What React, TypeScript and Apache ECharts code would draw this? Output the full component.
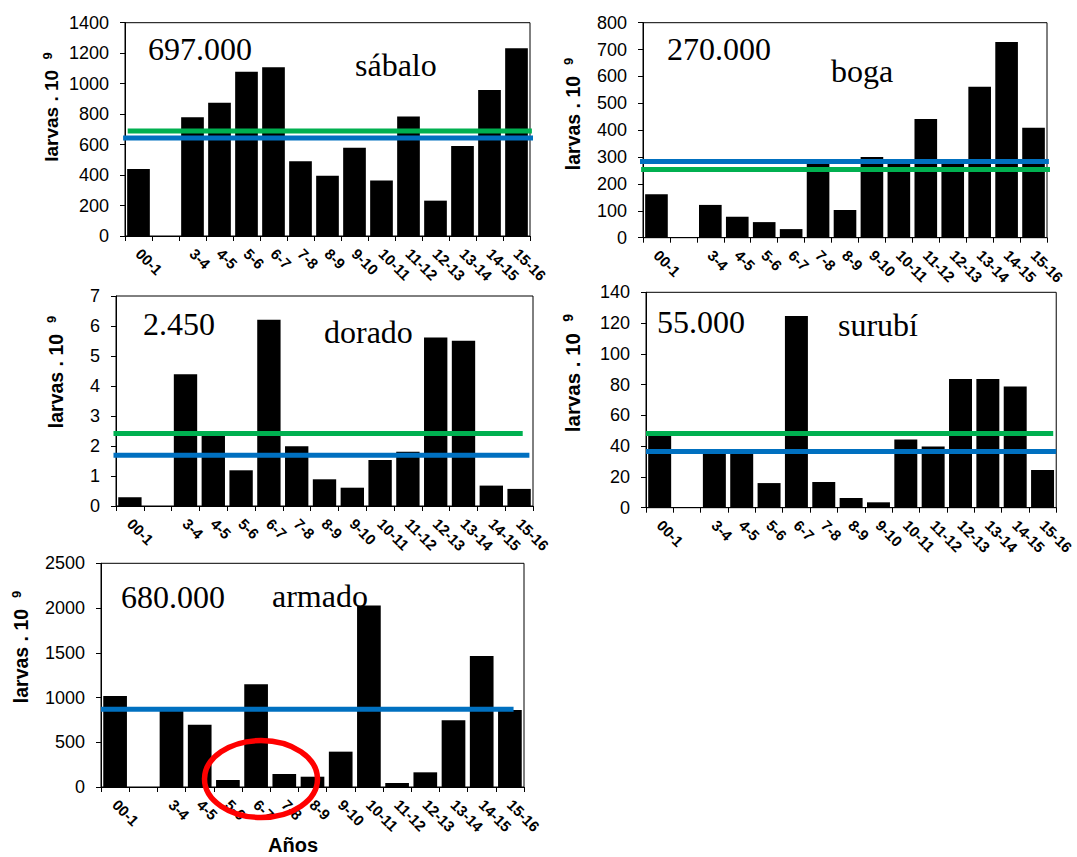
import React, { useEffect, useRef } from "react";
import * as echarts from "echarts";

// ---- data ----
const categories = ["00-1", "", "3-4", "4-5", "5-6", "6-7", "7-8", "8-9", "9-10", "10-11", "11-12", "12-13", "13-14", "14-15", "15-16"];

const sabalo = [440, null, 779, 875, 1078, 1107, 490, 396, 580, 365, 785, 232, 591, 958, 1232];
const boga = [162, null, 122, 78, 58, 32, 283, 103, 300, 278, 442, 282, 562, 728, 409];
const dorado = [0.29, null, 4.39, 2.4, 1.19, 6.21, 1.99, 0.89, 0.61, 1.53, 1.81, 5.62, 5.51, 0.68, 0.57];
const surubi = [48, null, 36.5, 36.5, 16, 124.6, 16.7, 6.3, 3.5, 44.4, 39.7, 83.7, 83.7, 78.7, 24.5];
const armado = [1017, null, 870, 697, 78, 1148, 145, 115, 395, 2027, 45, 164, 745, 1464, 861];

const speciesNames = ["sábalo", "boga", "dorado", "surubí", "armado"];
const totals = ["697.000", "270.000", "2.450", "55.000", "680.000"];
const yMax = [1400, 800, 7, 140, 2500];
const yInterval = [200, 100, 1, 20, 500];

// mean lines (green / blue) per panel; null = absent
const greenMeans = [689, 254, 2.42, 48.3, null];
const blueMeans = [643, 284, 1.69, 36.6, 868];

const yAxisTitle = "larvas . 10";
const yAxisSup = "9";
const xAxisTitle = "Años";

// ---- layout / style (not data) ----
const GREEN = "#00B050";
const BLUE = "#0070C0";
const SANS = "'Liberation Sans', Arial, sans-serif";
const SERIF = "'Liberation Serif', 'Times New Roman', serif";

const grids = [
  { left: 125, top: 22.7, width: 405, height: 213.3 },
  { left: 643, top: 22.7, width: 404, height: 215 },
  { left: 116, top: 296, width: 417, height: 210 },
  { left: 646, top: 292.3, width: 413.5, height: 215.4 },
  { left: 101, top: 563.3, width: 423, height: 223.7 },
];
// line extents in category units
const greenExtent = [[0.1, 15.07], [-0.07, 15.2], [-0.09, 14.63], [0, 14.89], null];
const blueExtent = [[-0.07, 15.2], [-0.19, 15.07], [-0.09, 14.87], [0, 15], [0, 14.63]];

const totalPos = [[148, 49], [667, 49], [143, 324], [657, 322], [121, 597]];
const namePos = [[355, 65], [831, 71], [324, 332], [838, 325], [272, 596]];
const yTitlePos = [[51, 107], [573, 114], [56, 372], [572, 373], [21, 647]];
const yTitleSize = [19, 19.5, 19.5, 20.5, 19.5];

export default function App() {
  const ref = useRef<HTMLDivElement>(null);

  useEffect(() => {
    if (!ref.current) return;
    const chart = echarts.init(ref.current, undefined, { renderer: "svg" });
    const seriesData = [sabalo, boga, dorado, surubi, armado];

    const xAxes: any[] = [];
    const yAxes: any[] = [];
    const series: any[] = [];

    grids.forEach((_, i) => {
      xAxes.push({
        type: "category",
        gridIndex: i,
        data: categories,
        boundaryGap: true,
        axisLine: { show: true, lineStyle: { color: "#000", width: 1 } },
        axisTick: { show: true, interval: 0, length: 5, lineStyle: { color: "#000" } },
        axisLabel: {
          interval: 0,
          rotate: -45,
          margin: 15,
          color: "#000",
          fontSize: 15,
          fontWeight: "bold",
          fontFamily: SANS,
        },
        splitLine: { show: false },
      });
      yAxes.push({
        type: "value",
        gridIndex: i,
        min: 0,
        max: yMax[i],
        interval: yInterval[i],
        axisLine: { show: true, lineStyle: { color: "#000", width: 1 } },
        axisTick: { show: true, length: 5, lineStyle: { color: "#000" } },
        axisLabel: {
          color: "#000",
          fontSize: 18,
          fontFamily: SANS,
          margin: 16,
          formatter: (v: number) => String(v),
        },
        splitLine: { show: false },
      });
      series.push({
        type: "bar",
        name: speciesNames[i],
        xAxisIndex: i,
        yAxisIndex: i,
        data: seriesData[i],
        barCategoryGap: "16%",
        itemStyle: { color: "#000" },
        z: 2,
      });
    });

    // hidden value x-axes for mean lines
    grids.forEach((_, i) => {
      xAxes.push({ type: "value", gridIndex: i, min: 0, max: 15, show: false });
      const g = greenMeans[i];
      const ge = greenExtent[i];
      if (g !== null && ge) {
        series.push({
          type: "line",
          xAxisIndex: 5 + i,
          yAxisIndex: i,
          data: [[ge[0], g], [ge[1], g]],
          symbol: "none",
          clip: false,
          lineStyle: { color: GREEN, width: 5 },
          z: 5,
        });
      }
      const b = blueMeans[i];
      const be = blueExtent[i];
      if (b !== null && be) {
        series.push({
          type: "line",
          xAxisIndex: 5 + i,
          yAxisIndex: i,
          data: [[be[0], b], [be[1], b]],
          symbol: "none",
          clip: false,
          lineStyle: { color: BLUE, width: 5 },
          z: 5,
        });
      }
    });

    const graphics: any[] = [];
    grids.forEach((_, i) => {
      graphics.push({
        type: "text",
        x: totalPos[i][0],
        y: totalPos[i][1],
        z: 50,
        style: { text: totals[i], fill: "#000", font: `32px ${SERIF}`, textAlign: "left", textVerticalAlign: "middle" },
      });
      graphics.push({
        type: "text",
        x: namePos[i][0],
        y: namePos[i][1],
        z: 50,
        style: { text: speciesNames[i], fill: "#000", font: `32px ${SERIF}`, textAlign: "left", textVerticalAlign: "middle" },
      });
      const fs = yTitleSize[i];
      graphics.push({
        type: "text",
        x: yTitlePos[i][0],
        y: yTitlePos[i][1],
        rotation: Math.PI / 2,
        z: 50,
        style: {
          text: `{a|${yAxisTitle}  }{s|${yAxisSup}}`,
          textAlign: "center",
          textVerticalAlign: "middle",
          rich: {
            a: { fontSize: fs, fontWeight: "bold", fontFamily: SANS, fill: "#000", lineHeight: fs + 2 },
            s: { fontSize: Math.round(fs * 0.68), fontWeight: "bold", fontFamily: SANS, fill: "#000", verticalAlign: "top", lineHeight: Math.round(fs * 0.68) },
          },
        },
      });
    });
    graphics.push({
      type: "text",
      x: 293,
      y: 845,
      z: 50,
      style: { text: xAxisTitle, fill: "#000", font: `bold 20px ${SANS}`, textAlign: "center", textVerticalAlign: "middle" },
    });
    graphics.push({
      type: "ellipse",
      shape: { cx: 261, cy: 779, rx: 56.5, ry: 38.5 },
      z: 60,
      style: { fill: "none", stroke: "#FF0000", lineWidth: 5.5 },
    });

    chart.setOption({
      animation: false,
      backgroundColor: "#fff",
      grid: grids.map((g) => ({ ...g, containLabel: false, show: true, borderColor: "#000", borderWidth: 1, backgroundColor: "transparent" })),
      xAxis: xAxes,
      yAxis: yAxes,
      series,
      graphic: graphics,
    });

    return () => chart.dispose();
  }, []);

  return <div ref={ref} style={{ position: "absolute", left: 0, top: 0, width: 1077, height: 857 }} />;
}
